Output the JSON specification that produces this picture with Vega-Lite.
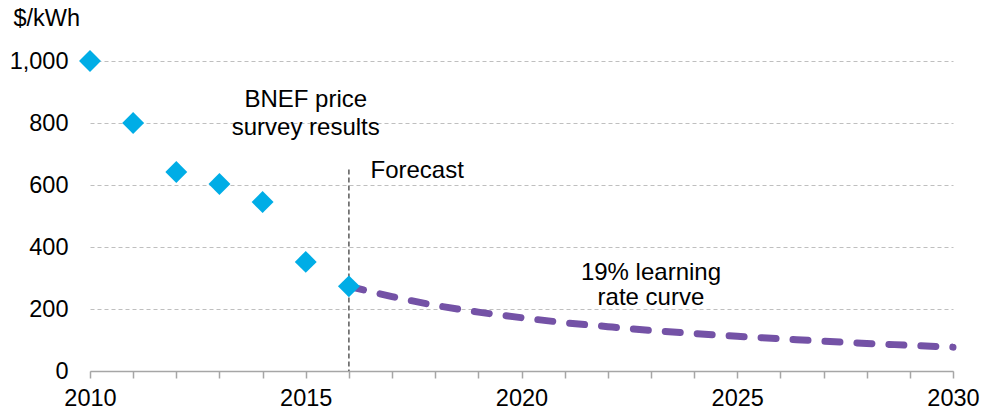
{
  "$schema": "https://vega.github.io/schema/vega-lite/v6.json",
  "width": 863,
  "height": 310,
  "autosize": {"type": "none"},
  "padding": {"left": 90, "top": 61, "right": 31, "bottom": 42},
  "background": "white",
  "config": {
    "view": {"stroke": null},
    "font": "Liberation Sans",
    "axis": {"labelFont": "Liberation Sans", "labelFontSize": 23.5, "labelColor": "#000000"}
  },
  "datasets": {
    "survey": [
      {"year": 2010, "price": 1000},
      {"year": 2011, "price": 800},
      {"year": 2012, "price": 642},
      {"year": 2013, "price": 603},
      {"year": 2014, "price": 545},
      {"year": 2015, "price": 352},
      {"year": 2016, "price": 273}
    ],
    "curve": [
      {"year": 2016, "price": 273},
      {"year": 2017, "price": 240},
      {"year": 2018, "price": 212},
      {"year": 2019, "price": 190},
      {"year": 2020, "price": 172},
      {"year": 2021, "price": 156},
      {"year": 2022, "price": 143},
      {"year": 2023, "price": 131},
      {"year": 2024, "price": 121},
      {"year": 2025, "price": 112},
      {"year": 2026, "price": 104},
      {"year": 2027, "price": 96},
      {"year": 2028, "price": 89},
      {"year": 2029, "price": 83},
      {"year": 2030, "price": 77}
    ],
    "forecastRule": [{"year": 2016, "top": 650, "bottom": 0}],
    "centerLabels": [
      {"year": 2015, "price": 874, "label": "BNEF price"},
      {"year": 2015, "price": 784, "label": "survey results"},
      {"year": 2023, "price": 316, "label": "19% learning"},
      {"year": 2023, "price": 235, "label": "rate curve"}
    ],
    "leftLabels": [{"year": 2016.5, "price": 645, "label": "Forecast"}]
  },
  "layer": [
    {
      "data": {"name": "curve"},
      "mark": {"type": "line", "color": "#7452A6", "strokeWidth": 7, "strokeDash": [15, 17], "strokeCap": "round", "interpolate": "monotone"},
      "encoding": {
        "x": {
          "field": "year", "type": "quantitative",
          "scale": {"domain": [2010, 2030], "nice": false, "zero": false},
          "axis": {
            "title": null,
            "values": [2010, 2011, 2012, 2013, 2014, 2015, 2016, 2017, 2018, 2019, 2020, 2021, 2022, 2023, 2024, 2025, 2026, 2027, 2028, 2029, 2030],
            "format": "d",
            "labelExpr": "datum.value % 5 === 0 ? datum.label : ''",
            "grid": false,
            "domainColor": "#A6A6A6",
            "domainWidth": 1.5,
            "tickColor": "#A6A6A6",
            "tickWidth": 1.5,
            "tickSize": 7,
            "labelPadding": 8,
            "labelFlush": false,
            "labelOverlap": false
          }
        },
        "y": {
          "field": "price", "type": "quantitative",
          "scale": {"domain": [0, 1000], "nice": false},
          "axis": {
            "values": [0, 200, 400, 600, 800, 1000],
            "format": ",d",
            "domain": false,
            "ticks": false,
            "grid": true,
            "gridColor": "#BFBFBF",
            "gridDash": [4, 3],
            "gridWidth": 1,
            "labelPadding": 22,
            "title": "$/kWh",
            "titleFont": "Liberation Sans",
            "titleFontSize": 23.5,
            "titleFontWeight": "normal",
            "titleColor": "#000000",
            "titleAngle": 0,
            "titleAlign": "left",
            "titleBaseline": "alphabetic",
            "titleX": -77,
            "titleY": -36
          }
        }
      }
    },
    {
      "data": {"name": "forecastRule"},
      "mark": {"type": "rule", "color": "#595959", "strokeWidth": 1.5, "strokeDash": [5, 3]},
      "encoding": {
        "x": {"field": "year", "type": "quantitative"},
        "y": {"field": "top", "type": "quantitative"},
        "y2": {"field": "bottom"}
      }
    },
    {
      "data": {"name": "survey"},
      "mark": {"type": "point", "shape": "diamond", "filled": true, "color": "#00ADE6", "size": 480, "opacity": 1},
      "encoding": {
        "x": {"field": "year", "type": "quantitative"},
        "y": {"field": "price", "type": "quantitative"}
      }
    },
    {
      "data": {"name": "centerLabels"},
      "mark": {"type": "text", "align": "center", "baseline": "middle", "fontSize": 24, "font": "Liberation Sans", "color": "#000000"},
      "encoding": {
        "x": {"field": "year", "type": "quantitative"},
        "y": {"field": "price", "type": "quantitative"},
        "text": {"field": "label"}
      }
    },
    {
      "data": {"name": "leftLabels"},
      "mark": {"type": "text", "align": "left", "baseline": "middle", "fontSize": 24, "font": "Liberation Sans", "color": "#000000"},
      "encoding": {
        "x": {"field": "year", "type": "quantitative"},
        "y": {"field": "price", "type": "quantitative"},
        "text": {"field": "label"}
      }
    }
  ]
}
